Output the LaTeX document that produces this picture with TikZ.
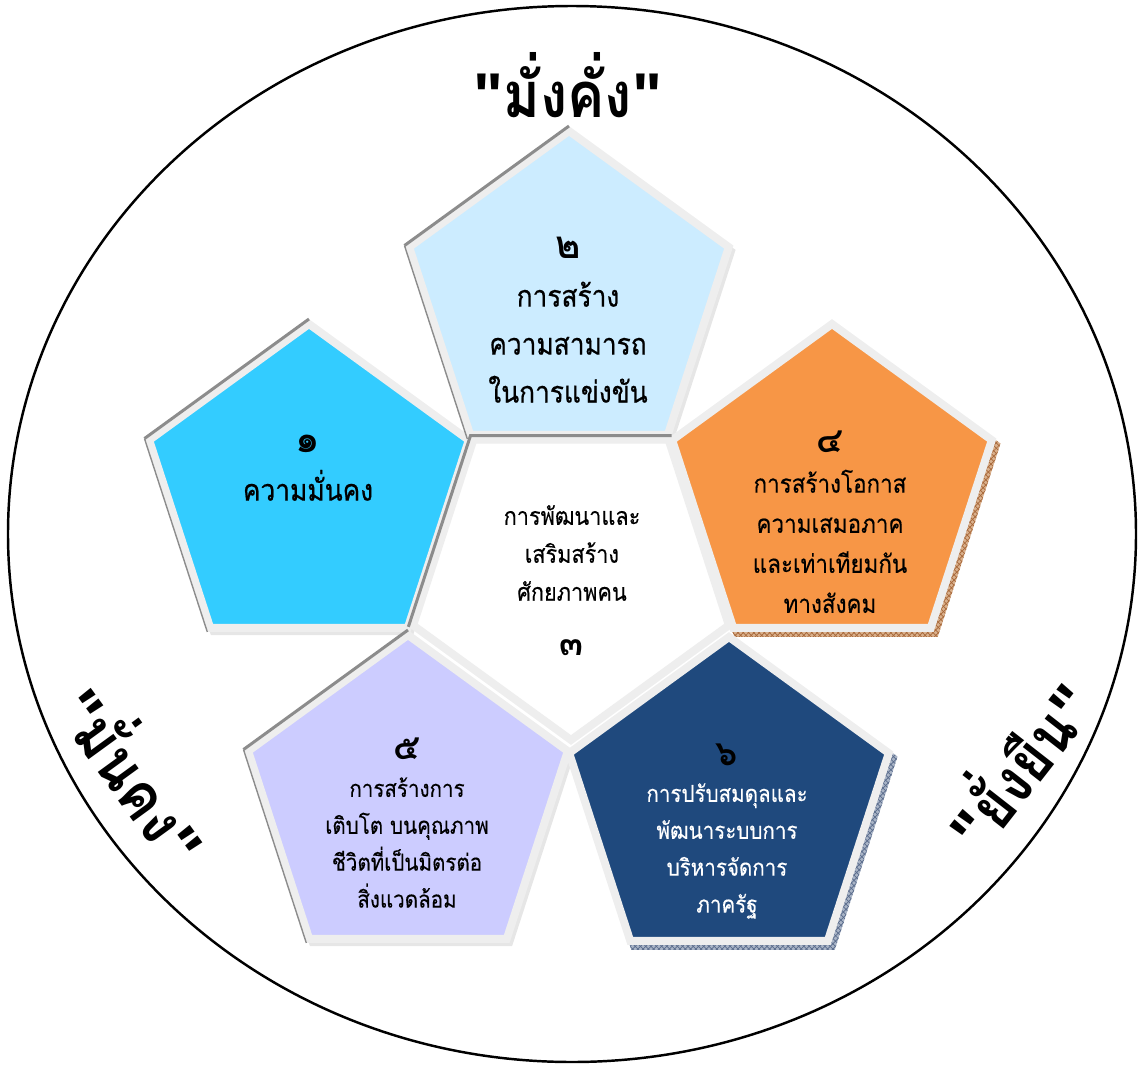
\documentclass[tikz,border=0pt]{standalone}
\usepackage{fontspec}
\setmainfont{Loma}[Script=Thai]
\newfontfamily\bigthai{Loma}[Script=Thai, FakeStretch=0.88, FakeBold=0.6]
\newfontfamily\smallthai{Loma}[Script=Thai, FakeStretch=0.88, FakeBold=0.3]
\newfontfamily\mottothai{Loma}[Script=Thai, FakeStretch=0.88]
\newfontfamily\digthai{Loma}[Script=Thai]
\newfontfamily\quotefont{Liberation Sans}
\usetikzlibrary{calc,patterns}
\definecolor{cyanP}{HTML}{33CCFF}
\definecolor{lightP}{HTML}{CCECFF}
\definecolor{orangeP}{HTML}{F79646}
\definecolor{lavP}{HTML}{CCCCFF}
\definecolor{navyP}{HTML}{1F497D}
\definecolor{rimgray}{HTML}{EEEEEE}
\definecolor{edgegray}{HTML}{8C8C8C}
\definecolor{shadowgray}{HTML}{E6E6E6}
\definecolor{tanX}{HTML}{D9B08C}
\definecolor{tanD}{HTML}{A8683A}
\definecolor{slateX}{HTML}{A9B4C6}
\definecolor{slateD}{HTML}{5A6C8C}
\newcommand{\pentup}[3]{%
  \path[#3] ($(#1)+(270:#2)$) -- ($(#1)+(198:#2)$) -- ($(#1)+(126:#2)$)
    -- ($(#1)+(54:#2)$) -- ($(#1)+(342:#2)$) -- cycle;}
\newcommand{\pentdown}[3]{%
  \path[#3] ($(#1)+(90:#2)$) -- ($(#1)+(162:#2)$) -- ($(#1)+(234:#2)$)
    -- ($(#1)+(306:#2)$) -- ($(#1)+(18:#2)$) -- cycle;}
\newcommand{\bigdig}[1]{{\digthai\bfseries\fontsize{22}{22}\selectfont #1}}
\newcommand{\smalldig}[1]{{\digthai\bfseries\fontsize{20}{20}\selectfont #1}}
\newcommand{\qq}{{\quotefont\bfseries "}}
\tikzset{
  pent/.style={draw=rimgray, line width=4.5pt, line join=miter},
  bevel/.style={draw=edgegray, line width=1.7pt},
  bevelthin/.style={draw=edgegray, line width=0.8pt},
  softshadow/.style={fill=shadowgray},
  bigtxt/.style={font=\bigthai\fontsize{17}{27.3}\selectfont, align=center, text=black},
  midtxt/.style={font=\smallthai\fontsize{14.5}{22.8}\selectfont, align=center, text=black},
  ctrtxt/.style={font=\smallthai\fontsize{14}{21.6}\selectfont, align=center, text=black},
  lowtxt/.style={font=\smallthai\fontsize{13.3}{21}\selectfont, align=center, text=black},
  motto/.style={font=\mottothai\bfseries\fontsize{36}{40}\selectfont, text=black}
}
\begin{document}
\begin{tikzpicture}[x=0.02cm, y=-0.02cm]
\useasboundingbox (0,0) rectangle (1140,1065);
% outer circle
\draw[line width=1.4pt] (572,534) ellipse [x radius=564, y radius=528];

% centres
\coordinate (c1) at (309,492);
\coordinate (c2) at (569,299);
\coordinate (c3) at (571,574);
\coordinate (c4) at (832,492);
\coordinate (c5) at (408,803);
\coordinate (c6) at (729,805);
\coordinate (s1) at (312,496);
\coordinate (s2) at (572,303);
\coordinate (s5) at (411,807);
\coordinate (e4) at (836,497);
\coordinate (e6) at (733,810);

% shadows and extrusions
\pentup{s1}{172}{softshadow}
\pentup{s2}{172}{softshadow}
\pentup{s5}{172}{softshadow}
\pentup{e4}{173}{fill=tanX, postaction={pattern=crosshatch, pattern color=tanD}}
\pentup{e6}{173}{fill=slateX, postaction={pattern=crosshatch, pattern color=slateD}}

% pentagon 1
\pentup{c1}{168}{pent, fill=cyanP}
\draw[bevel] ($(c1)+(198:173)$) -- ($(c1)+(270:173)$);
\draw[bevelthin] ($(c1)+(198:173)$) -- ($(c1)+(126:173)$);
% pentagon 2
\pentup{c2}{168}{pent, fill=lightP}
\draw[bevel] ($(c2)+(198:173)$) -- ($(c2)+(270:173)$);
\draw[bevelthin] ($(c2)+(198:173)$) -- ($(c2)+(126:173)$);
% pentagon 4
\pentup{c4}{168}{pent, fill=orangeP}
% pentagon 5
\pentup{c5}{168}{pent, fill=lavP}
\draw[bevel] ($(c5)+(198:173)$) -- ($(c5)+(270:173)$);
\draw[bevelthin] ($(c5)+(198:173)$) -- ($(c5)+(126:173)$);
% pentagon 6
\pentup{c6}{168}{pent, fill=navyP}
% centre pentagon
\pentdown{c3}{166}{pent, fill=white}
\draw[bevel] ($(c3)+(162:171)$) -- ($(c3)+(234:171)$) -- ($(c3)+(306:171)$);

% texts
\node[bigtxt] (t1) at (308,468) {\bigdig{๑}\\ความมั่นคง};
\node[bigtxt] (t2) at (568,320) {\bigdig{๒}\\การสร้าง\\ความสามารถ\\ในการแข่งขัน};
\node[ctrtxt] (t3) at (572,553) {การพัฒนาและ\\เสริมสร้าง\\ศักยภาพคน};
\node[ctrtxt] (n3) at (572,648) {\smalldig{๓}};
\node[midtxt] (t4) at (830,522) {\smalldig{๔}\\การสร้างโอกาส\\ความเสมอภาค\\และเท่าเทียมกัน\\ทางสังคม};
\node[lowtxt] (t5) at (407,823) {\smalldig{๕}\\การสร้างการ\\เติบโต บนคุณภาพ\\ชีวิตที่เป็นมิตรต่อ\\สิ่งแวดล้อม};
\node[lowtxt, text=white] (t6) at (727,831) {{\color{black}\smalldig{๖}}\\การปรับสมดุลและ\\พัฒนาระบบการ\\บริหารจัดการ\\ภาครัฐ};

\node[motto] (m1) at (568,85) {\qq มั่งคั่ง\qq};
\node[motto, rotate=-54] (m2) at (138,772) {\qq มั่นคง\qq};
\node[motto, rotate=52] (m3) at (1015,762) {\qq ยั่งยืน\qq};
\end{tikzpicture}
\end{document}
